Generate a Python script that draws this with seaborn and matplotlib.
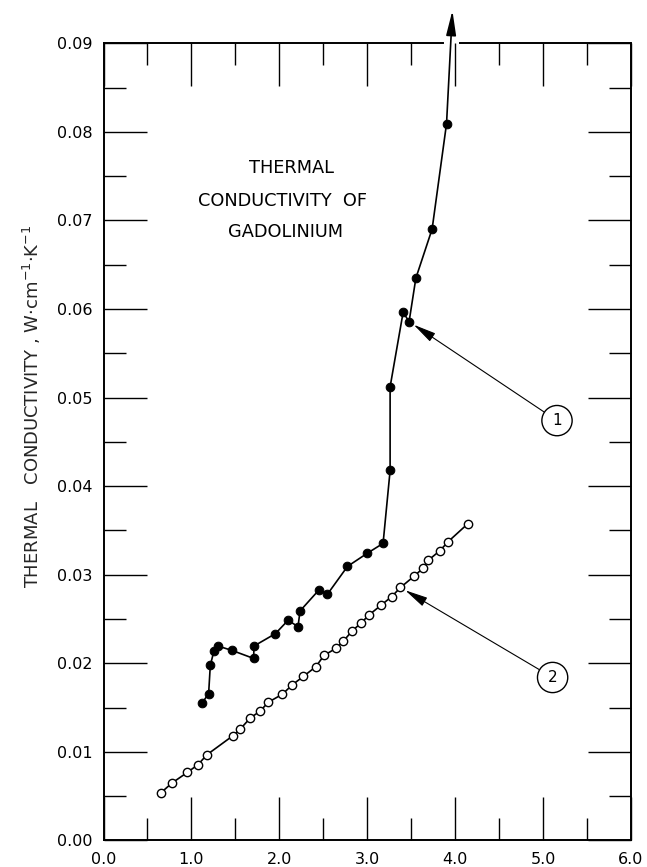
import matplotlib
matplotlib.use("Agg")
import matplotlib.pyplot as plt
import seaborn as sns
import pandas as pd
from matplotlib.ticker import MultipleLocator, FormatStrFormatter

# ---- data ----
s1_x = [1.124, 1.196, 1.215, 1.256, 1.302, 1.461, 1.708, 1.712, 1.956, 2.100,
        2.213, 2.236, 2.452, 2.548, 2.776, 2.999, 3.181, 3.261, 3.261, 3.409,
        3.477, 3.554, 3.739, 3.903]
s1_y = [0.01554, 0.01659, 0.01976, 0.02138, 0.02195, 0.02146, 0.02055, 0.02195,
        0.02335, 0.02486, 0.02414, 0.02591, 0.02829, 0.02780, 0.03094, 0.03241,
        0.03354, 0.04177, 0.05121, 0.05963, 0.05857, 0.06348, 0.06903, 0.08092]

s2_x = [0.649, 0.778, 0.953, 1.074, 1.177, 1.473, 1.557, 1.671, 1.780, 1.876,
        2.035, 2.149, 2.274, 2.415, 2.509, 2.650, 2.730, 2.828, 2.927, 3.026,
        3.158, 3.280, 3.379, 3.534, 3.637, 3.694, 3.827, 3.921, 4.142]
s2_y = [0.00535, 0.00648, 0.00768, 0.00855, 0.00968, 0.01183, 0.01259, 0.01384,
        0.01459, 0.01561, 0.01651, 0.01758, 0.01852, 0.01961, 0.02089, 0.02172,
        0.02251, 0.02365, 0.02452, 0.02550, 0.02656, 0.02754, 0.02856, 0.02984,
        0.03075, 0.03162, 0.03271, 0.03373, 0.03573]

title_lines = ["THERMAL", "CONDUCTIVITY  OF", "GADOLINIUM"]
y_label = r"THERMAL   CONDUCTIVITY , W$\cdot$cm$^{-1}$$\cdot$K$^{-1}$"
callout_labels = ["1", "2"]
callout_targets = [(3.477, 0.05857), (3.379, 0.02856)]
callout_centers = [(5.16, 0.0474), (5.11, 0.0184)]
arrow_end = (3.97, 0.0937)

x_ticks = [0, 1, 2, 3, 4, 5, 6]
y_ticks = [0.00, 0.01, 0.02, 0.03, 0.04, 0.05, 0.06, 0.07, 0.08, 0.09]

# ---- figure ----
sns.set_theme(style="ticks")
plt.rcParams["font.family"] = ["DejaVu Sans"]
plt.rcParams["mathtext.default"] = "regular"

fig = plt.figure(figsize=(6.47, 8.67), dpi=100)
ax = fig.add_axes([0.160, 0.0306, 0.815, 0.9195])

df1 = pd.DataFrame({"x": s1_x, "y": s1_y})
df2 = pd.DataFrame({"x": s2_x, "y": s2_y})

sns.lineplot(data=df1, x="x", y="y", sort=False, estimator=None, ax=ax,
             color="black", lw=1.2, marker="o", markersize=6.2,
             markerfacecolor="black", markeredgecolor="black", zorder=4)
sns.lineplot(data=df2, x="x", y="y", sort=False, estimator=None, ax=ax,
             color="black", lw=1.2, marker="o", markersize=6.0,
             markerfacecolor="white", markeredgecolor="black",
             markeredgewidth=1.0, zorder=4)

ax.set_xlim(0, 6)
ax.set_ylim(0, 0.09)
ax.set_xticks(x_ticks)
ax.set_yticks(y_ticks)
ax.xaxis.set_major_formatter(FormatStrFormatter("%.1f"))
ax.yaxis.set_major_formatter(FormatStrFormatter("%.2f"))
ax.xaxis.set_minor_locator(MultipleLocator(0.5))
ax.yaxis.set_minor_locator(MultipleLocator(0.005))
ax.tick_params(which="both", direction="in", top=True, right=True,
               colors="black", width=1.0, labelsize=11.5)
ax.tick_params(which="major", length=31, pad=8)
ax.tick_params(which="minor", length=16)
ax.set_xlabel("")
ax.set_ylabel(y_label, fontsize=13, va="center", ha="center")
ax.yaxis.set_label_coords(-0.1356, 0.545)

for sp in ax.spines.values():
    sp.set_linewidth(1.4)
    sp.set_color("black")
# gap in the top frame where the arrow leaves the plot
ax.spines["top"].set_bounds(0, 3.86)
ax.hlines(0.09, 4.05, 6.0, colors="black", lw=1.4, clip_on=False, zorder=3)

# arrow continuing curve 1 off the top
ax.annotate("", xy=arrow_end, xytext=(s1_x[-1], s1_y[-1]),
            annotation_clip=False,
            arrowprops=dict(arrowstyle="-|>,head_length=1.5,head_width=0.3",
                            mutation_scale=10, color="black", lw=1.2,
                            shrinkA=0, shrinkB=0))

# inner title
title_y = [0.844, 0.802, 0.763]
title_x = [0.356, 0.340, 0.345]
for t, tx, ty in zip(title_lines, title_x, title_y):
    ax.text(tx, ty, t, transform=ax.transAxes, ha="center", va="center",
            fontsize=12.8, color="black")

# circled callouts
for lab, tgt, ctr in zip(callout_labels, callout_targets, callout_centers):
    ax.annotate(lab, xy=tgt, xytext=ctr, ha="center", va="center",
                fontsize=11, color="black",
                bbox=dict(boxstyle="circle,pad=0.5", fc="white", ec="black", lw=1.0),
                arrowprops=dict(arrowstyle="-|>,head_length=1.4,head_width=0.3",
                                mutation_scale=10, color="black", lw=0.8,
                                shrinkA=0, shrinkB=4))

fig.savefig("out.png", dpi=100, facecolor="white")
